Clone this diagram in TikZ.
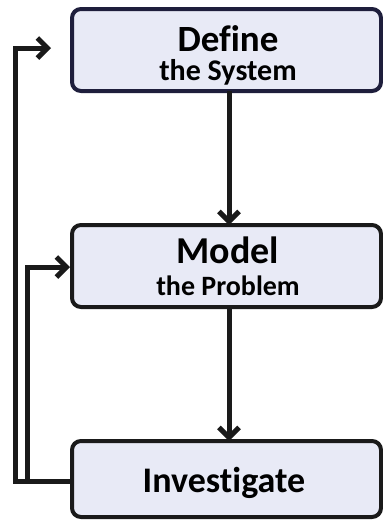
\documentclass[tikz,border=0pt]{standalone}
\usepackage{fontspec}
\setmainfont{Carlito}[Ligatures=NoCommon]
\usetikzlibrary{arrows.meta}
\definecolor{boxfill}{HTML}{E8EAF6}
\definecolor{navyline}{HTML}{1E1E3C}
\definecolor{darkline}{HTML}{1A1A1A}
\tikzset{
  stagebox/.style={draw=darkline, line width=4pt, fill=boxfill, rounded corners=9pt},
  flow/.style={draw=darkline, line width=5pt, -{Straight Barb[length=10pt,width=20pt,line width=5pt]}},
  txt/.style={anchor=base, inner sep=0pt, font=\bfseries\fontsize{#1}{#1}\selectfont}
}
\begin{document}
\begin{tikzpicture}[x=1pt,y=-1pt]
\useasboundingbox (0,0) rectangle (383,520);
\draw[stagebox, draw=navyline] (72,9) rectangle (381,91);
\draw[stagebox] (72,225) rectangle (381,307);
\draw[stagebox] (72,441) rectangle (381,517);
\node[txt=37] (def) at (228,51) {Define};
\node[txt=30] (defs) at (228,80) {the System};
\node[txt=38] (mod) at (228,263) {Model};
\node[txt=28] (mods) at (228,295) {the Problem};
\node[txt=36] (inv) at (224,492) {Investigate};
\coordinate (d1) at (229,91);
\coordinate (m0) at (229,225);
\coordinate (m1) at (229,307);
\coordinate (i0) at (229,441);
\coordinate (ileft) at (72,481);
\coordinate (ob) at (15,481);
\coordinate (ot) at (15,48);
\coordinate (dtip) at (51,48);
\coordinate (ib) at (27,481);
\coordinate (it) at (27,267);
\coordinate (mtip) at (70,267);
\draw[flow] (d1) -- (m0);
\draw[flow] (m1) -- (i0);
\draw[flow] (ileft) -- (ob) -- (ot) -- (dtip);
\draw[flow] (ib) -- (it) -- (mtip);
\end{tikzpicture}
\end{document}
